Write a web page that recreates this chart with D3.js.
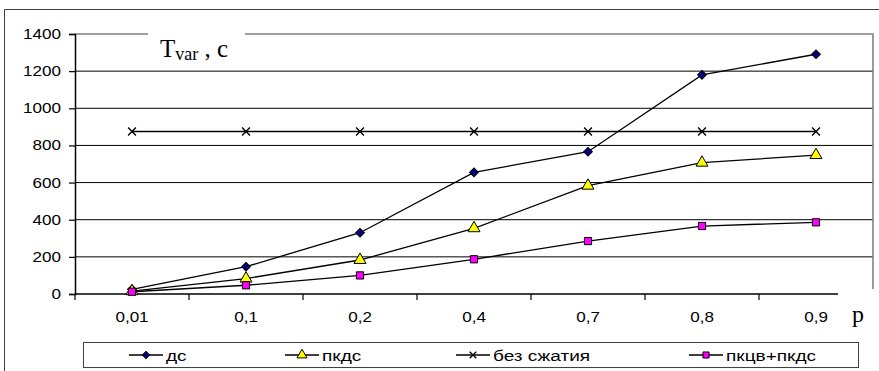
<!DOCTYPE html>
<html>
<head>
<meta charset="utf-8">
<script src="https://cdn.jsdelivr.net/npm/d3@7"></script>
<style>
  body { margin: 0; background: #fff; }
  svg { display: block; }
  text { font-family: "Liberation Sans", Arial, sans-serif; fill: #000; }
  .serif { font-family: "Liberation Serif", "Times New Roman", serif; }
</style>
</head>
<body>
<script>
// chart data
var categories = ["0,01", "0,1", "0,2", "0,4", "0,7", "0,8", "0,9"];
var dsValues   = [25, 147, 330, 655, 766, 1180, 1291];
var pkdsValues = [15, 83, 183, 354, 583, 707, 748];
var bezValues  = [875, 875, 875, 875, 875, 875, 875];
var pkcvValues = [12, 47, 100, 187, 285, 366, 386];
var seriesNames = ["дс", "пкдс", "без сжатия", "пкцв+пкдс"];
var yTicks = [0, 200, 400, 600, 800, 1000, 1200, 1400];

var width = 879, height = 371;
var plot = {left: 75, right: 873, top: 34, bottom: 294};
var sx = 1.22; // text in the picture is a bit wider than plain Arial

var svg = d3.select("body").append("svg")
    .attr("width", width)
    .attr("height", height);

// scales
var x = d3.scaleBand().domain(categories).range([plot.left, plot.right]);
var y = d3.scaleLinear().domain([0, 1400]).range([plot.bottom, plot.top]);

// horizontally stretched text helper
function label(g, tx, ty, str, anchor, size, k) {
  return g.append("text")
      .attr("transform", "translate(" + tx + "," + ty + ") scale(" + (k || sx) + ",1)")
      .attr("text-anchor", anchor)
      .style("font-size", size + "px")
      .text(str);
}

// outer frame
svg.append("path")
    .attr("d", "M4.5," + height + "V9.5H" + width)
    .attr("fill", "none")
    .attr("stroke", "#404040")
    .attr("stroke-width", 1);

// gridlines
svg.append("g").selectAll("line")
    .data(yTicks.filter(function(d) { return d > 0 && d < 1400; }))
  .enter().append("line")
    .attr("x1", plot.left).attr("x2", plot.right)
    .attr("y1", function(d) { return y(d); })
    .attr("y2", function(d) { return y(d); })
    .attr("stroke", "#000")
    .attr("stroke-width", 1);

// plot area border (top + right), gray
svg.append("path")
    .attr("d", "M" + plot.left + "," + y(1400) + "H" + plot.right + "V" + plot.bottom)
    .attr("fill", "none")
    .attr("stroke", "#808080")
    .attr("stroke-width", 1.6);

// y axis
var yAxis = svg.append("g")
    .attr("transform", "translate(" + plot.left + ",0)")
    .call(d3.axisLeft(y).tickValues(yTicks).tickSize(6).tickFormat(""));
yAxis.select(".domain").attr("stroke", "#000").attr("stroke-width", 1.5);
yAxis.selectAll(".tick line").attr("stroke", "#000").attr("stroke-width", 1.2);
yTicks.forEach(function(v) {
  label(svg, 61, y(v) + 5, String(v), "end", 14);
});

// x axis, ticks sit on the band edges
var edges = categories.map(function(c) { return x(c); });
svg.append("line")
    .attr("x1", plot.left).attr("x2", plot.right)
    .attr("y1", y(0)).attr("y2", y(0))
    .attr("stroke", "#000").attr("stroke-width", 1.5);
svg.append("g").selectAll("line")
    .data(edges.concat([plot.right]))
  .enter().append("line")
    .attr("x1", function(d) { return d; })
    .attr("x2", function(d) { return d; })
    .attr("y1", y(0)).attr("y2", y(0) + 6)
    .attr("stroke", "#000").attr("stroke-width", 1.2);
categories.forEach(function(c) {
  label(svg, x(c) + x.bandwidth() / 2, 322, c, "middle", 14);
});

// series
var series = [
  {name: seriesNames[0], values: dsValues,   symbol: d3.symbolSquare,   size: 38, fill: "#000080", rotate: 45},
  {name: seriesNames[1], values: pkdsValues, symbol: d3.symbolTriangle, size: 62, fill: "#ffff00"},
  {name: seriesNames[2], values: bezValues,  symbol: d3.symbolX,        size: 42, fill: "none"},
  {name: seriesNames[3], values: pkcvValues, symbol: d3.symbolSquare,   size: 52, fill: "#ff00ff"}
];

var line = d3.line()
    .x(function(d, i) { return x(categories[i]) + x.bandwidth() / 2; })
    .y(function(d) { return y(d); });

function marker(g, s, cx, cy, k) {
  return g.append("path")
      .attr("d", d3.symbol().type(s.symbol).size(s.size * (k || 1))())
      .attr("transform", "translate(" + cx + "," + cy + ")" +
            (s.rotate ? " rotate(" + s.rotate + ")" : ""))
      .attr("stroke", "#000")
      .attr("stroke-width", s.symbol === d3.symbolX ? 1.4 : 1)
      .attr("fill", s.fill);
}

series.forEach(function(s) {
  svg.append("path")
      .datum(s.values)
      .attr("d", line)
      .attr("fill", "none")
      .attr("stroke", "#000")
      .attr("stroke-width", 1.3);
});
series.forEach(function(s) {
  s.values.forEach(function(v, i) {
    marker(svg, s, x(categories[i]) + x.bandwidth() / 2, y(v));
  });
});

// title with white background
svg.append("rect")
    .attr("x", 148).attr("y", 28).attr("width", 97).attr("height", 36)
    .attr("fill", "#fff");
var title = svg.append("text")
    .attr("class", "serif")
    .attr("x", 160).attr("y", 57)
    .style("font-size", "25px");
title.append("tspan").text("T");
title.append("tspan").attr("dy", 3).style("font-size", "18px").text("var");
title.append("tspan").attr("dy", -3).text(" ,  c");

// axis name "p"
svg.append("rect")
    .attr("x", 838).attr("y", 289).attr("width", 40).attr("height", 44)
    .attr("fill", "#fff");
svg.append("text")
    .attr("class", "serif")
    .attr("x", 852).attr("y", 322)
    .style("font-size", "24px")
    .text("p");

// legend
var legendX = [129, 285, 456, 689];
var legend = svg.append("g");
legend.append("rect")
    .attr("x", 83.5).attr("y", 342.5).attr("width", 775).attr("height", 25)
    .attr("fill", "#fff")
    .attr("stroke", "#404040")
    .attr("stroke-width", 1);
series.forEach(function(s, i) {
  var lx = legendX[i];
  legend.append("line")
      .attr("x1", lx).attr("x2", lx + 34)
      .attr("y1", 355).attr("y2", 355)
      .attr("stroke", "#000").attr("stroke-width", 1.3);
  marker(legend, s, lx + 17, 355, 0.7);
  label(legend, lx + 37, 361, s.name, "start", 15, 1.27);
});
</script>
</body>
</html>
